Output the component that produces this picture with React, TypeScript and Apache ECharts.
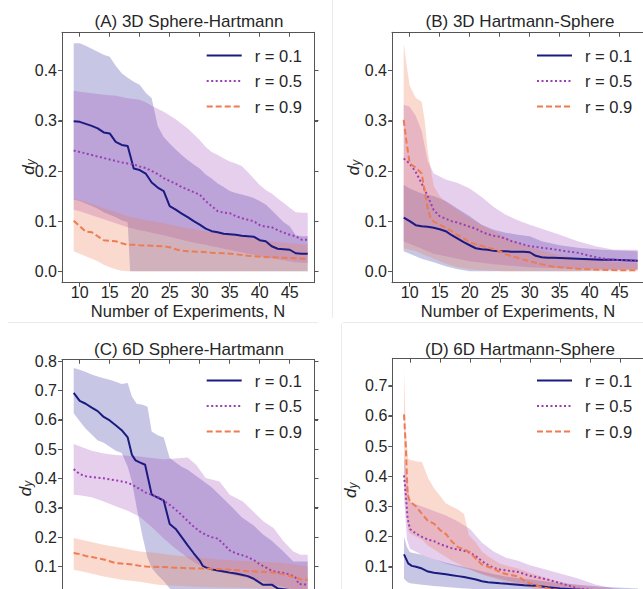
import React, { useEffect, useRef } from 'react';
import * as echarts from 'echarts';

// ---------- labels ----------
const X_TICKS = [10, 15, 20, 25, 30, 35, 40, 45];
const Y_TICKS_AB = [0, 0.1, 0.2, 0.3, 0.4];
const Y_TICKS_C = [0, 0.1, 0.2, 0.3, 0.4, 0.5, 0.6, 0.7, 0.8];
const Y_TICKS_D = [0, 0.1, 0.2, 0.3, 0.4, 0.5, 0.6, 0.7];
const LEGEND_NAMES = ['r = 0.1', 'r = 0.5', 'r = 0.9'];
const TITLES = ['(A) 3D Sphere-Hartmann', '(B) 3D Hartmann-Sphere', '(C) 6D Sphere-Hartmann', '(D) 6D Hartmann-Sphere'];
const X_NAME = 'Number of Experiments, N';
const Y_NAME = '{d|d}{s|y}';

// ---------- Panel A: means [N, d_y] ----------
const A_MEAN_01 = [[9,0.299],[10,0.298],[11,0.294],[12,0.29],[13,0.285],[14,0.277],[15,0.275],[16,0.258],[17,0.252],[18,0.25],[19,0.205],[20,0.202],[21,0.195],[22,0.177],[23,0.167],[24,0.16],[25,0.13],[26,0.123],[27,0.115],[28,0.108],[29,0.1],[30,0.093],[31,0.085],[32,0.08],[33,0.078],[34,0.075],[35,0.074],[36,0.073],[37,0.071],[38,0.07],[39,0.069],[40,0.062],[41,0.06],[42,0.05],[43,0.045],[44,0.044],[45,0.043],[46,0.036],[47,0.035],[48,0.035]];
const A_MEAN_05 = [[9,0.241],[10,0.238],[12,0.232],[14,0.226],[16,0.22],[17,0.217],[18,0.215],[19,0.213],[20,0.209],[21,0.206],[22,0.2],[23,0.194],[24,0.186],[25,0.18],[26,0.175],[27,0.168],[28,0.163],[29,0.158],[30,0.153],[31,0.14],[32,0.13],[33,0.12],[34,0.117],[35,0.116],[36,0.11],[37,0.106],[38,0.103],[39,0.1],[40,0.092],[41,0.089],[42,0.088],[43,0.082],[44,0.077],[45,0.073],[46,0.07],[47,0.063],[48,0.063]];
const A_MEAN_09 = [[9,0.101],[10,0.09],[11,0.079],[12,0.078],[13,0.07],[14,0.062],[15,0.061],[16,0.06],[17,0.056],[18,0.053],[19,0.053],[20,0.052],[22,0.051],[24,0.05],[25,0.048],[26,0.044],[27,0.041],[28,0.04],[30,0.039],[32,0.037],[34,0.036],[36,0.034],[38,0.031],[40,0.029],[42,0.028],[44,0.027],[46,0.026],[48,0.025]];
// bands [N, lower, upper]
const A_BAND_01 = [[9,0.143,0.455],[10,0.14,0.455],[11,0.135,0.45],[12,0.13,0.444],[13,0.125,0.438],[14,0.118,0.432],[15,0.113,0.428],[16,0.108,0.41],[17,0.102,0.395],[18,0.098,0.386],[18.4,0,0.383],[19,0,0.378],[20,0,0.372],[21,0,0.356],[22,0,0.345],[23,0,0.29],[24,0,0.268],[25,0,0.255],[26,0,0.243],[27,0,0.232],[28,0,0.222],[29,0,0.213],[30,0,0.205],[31,0,0.193],[32,0,0.185],[33,0,0.175],[34,0,0.168],[35,0,0.16],[36,0,0.156],[37,0,0.153],[38,0,0.15],[39,0,0.146],[40,0,0.14],[41,0,0.133],[42,0,0.122],[43,0,0.11],[44,0,0.098],[45,0,0.09],[46,0,0.072],[47,0,0.07],[48,0,0.07]];
const A_BAND_05 = [[9,0.123,0.36],[10,0.12,0.358],[12,0.112,0.355],[14,0.104,0.352],[16,0.096,0.35],[18,0.088,0.345],[20,0.082,0.342],[21,0.08,0.337],[22,0.077,0.33],[24,0.072,0.318],[26,0.066,0.303],[28,0.06,0.285],[30,0.055,0.262],[31,0.053,0.248],[32,0.05,0.238],[33,0.048,0.232],[34,0.045,0.225],[35,0.043,0.219],[36,0.04,0.215],[37,0.038,0.21],[38,0.035,0.198],[39,0.033,0.185],[40,0.03,0.172],[41,0.028,0.162],[42,0.026,0.155],[43,0.024,0.145],[44,0.022,0.136],[45,0.02,0.127],[46,0.018,0.118],[47,0.017,0.117],[48,0.017,0.117]];
const A_BAND_09 = [[9,0.04,0.145],[10,0.035,0.142],[11,0.03,0.138],[12,0.025,0.134],[13,0.02,0.13],[14,0.013,0.126],[15,0.008,0.122],[16,0.004,0.118],[17,0.001,0.114],[18,0,0.11],[20,0,0.105],[22,0,0.1],[24,0,0.096],[26,0,0.091],[28,0,0.086],[30,0,0.082],[32,0,0.078],[34,0,0.075],[36,0,0.071],[38,0,0.067],[40,0,0.063],[42,0,0.06],[44,0,0.057],[46,0,0.055],[48,0,0.053]];

// ---------- Panel B ----------
const B_MEAN_01 = [[9,0.107],[10,0.1],[11,0.092],[12,0.09],[13,0.089],[14,0.087],[15,0.084],[16,0.08],[17,0.072],[18,0.065],[19,0.058],[20,0.052],[21,0.046],[22,0.044],[23,0.043],[24,0.041],[25,0.04],[26,0.04],[27,0.039],[28,0.039],[29,0.039],[30,0.038],[31,0.031],[32,0.028],[33,0.027],[34,0.027],[36,0.026],[38,0.025],[40,0.024],[42,0.023],[44,0.023],[46,0.022],[48,0.021]];
const B_MEAN_05 = [[9,0.225],[10,0.215],[11,0.198],[12,0.175],[13,0.15],[14,0.122],[15,0.11],[16,0.105],[17,0.1],[18,0.097],[19,0.093],[20,0.089],[21,0.085],[22,0.079],[23,0.074],[24,0.071],[25,0.069],[26,0.065],[27,0.06],[28,0.057],[30,0.05],[32,0.047],[34,0.044],[36,0.04],[38,0.037],[40,0.031],[42,0.026],[44,0.023],[46,0.022],[48,0.021]];
const B_MEAN_09 = [[9,0.302],[9.5,0.255],[10,0.215],[11,0.207],[12,0.195],[12.5,0.16],[13,0.126],[13.5,0.105],[14,0.099],[15,0.093],[16,0.087],[17,0.08],[18,0.072],[19,0.066],[20,0.058],[21,0.054],[22,0.051],[23,0.047],[24,0.044],[25,0.04],[26,0.034],[27,0.03],[28,0.027],[30,0.02],[32,0.014],[34,0.009],[36,0.007],[38,0.005],[40,0.004],[42,0.003],[45,0.002],[48,0.002]];
const B_BAND_01 = [[9,0.04,0.172],[10,0.035,0.165],[12,0.025,0.155],[14,0.018,0.15],[16,0.01,0.14],[18,0.004,0.125],[20,0,0.11],[22,0,0.093],[24,0,0.083],[26,0,0.077],[28,0,0.073],[30,0,0.07],[32,0,0.06],[35,0,0.052],[38,0,0.047],[42,0.002,0.043],[48,0.003,0.04]];
const B_BAND_05 = [[9,0.06,0.332],[10,0.055,0.328],[11,0.05,0.31],[12,0.045,0.28],[13,0.04,0.22],[14,0.035,0.195],[16,0.03,0.183],[18,0.025,0.176],[20,0.02,0.165],[22,0.017,0.148],[24,0.014,0.128],[26,0.012,0.113],[28,0.01,0.102],[30,0.008,0.093],[32,0.007,0.085],[35,0.006,0.073],[38,0.005,0.06],[41,0.005,0.05],[44,0.004,0.043],[48,0.004,0.043]];
const B_BAND_09 = [[9,0.045,0.455],[9.5,0.045,0.41],[10,0.043,0.37],[11,0.04,0.346],[12,0.035,0.338],[12.5,0.032,0.3],[13,0.03,0.24],[14,0.025,0.17],[15,0.02,0.15],[16,0.015,0.138],[18,0.008,0.122],[20,0.004,0.106],[22,0.002,0.092],[24,0.001,0.08],[26,0,0.068],[28,0,0.057],[30,0,0.048],[34,0,0.035],[38,0,0.026],[42,0,0.02],[48,0,0.016]];

// ---------- Panel C ----------
const C_MEAN_01 = [[9,0.692],[10,0.665],[11,0.655],[12,0.642],[13,0.63],[14,0.61],[15,0.598],[16,0.582],[17,0.565],[18,0.54],[18.7,0.481],[19.3,0.462],[20,0.455],[20.9,0.447],[22,0.345],[23,0.335],[24,0.325],[25,0.245],[26,0.228],[27,0.2],[28,0.172],[29,0.145],[30,0.12],[30.5,0.102],[31,0.097],[32,0.09],[33,0.086],[34,0.083],[35,0.079],[36,0.076],[37,0.072],[38,0.067],[39,0.058],[40,0.045],[40.5,0.038],[42,0.038],[43,0.025],[45,0.02],[48,0.015]];
const C_MEAN_05 = [[9,0.432],[10,0.415],[11,0.408],[12,0.405],[14,0.401],[15,0.397],[16,0.394],[17,0.39],[18,0.386],[19,0.376],[20,0.364],[21,0.352],[22,0.345],[23,0.337],[24,0.325],[25,0.31],[26,0.294],[27,0.275],[28,0.255],[29,0.236],[30,0.22],[31,0.208],[32,0.2],[33,0.195],[34,0.176],[35,0.155],[36,0.145],[37,0.139],[38,0.132],[39,0.122],[40,0.108],[41,0.097],[42,0.085],[43,0.08],[44,0.078],[45,0.073],[46,0.062],[46.5,0.04],[48,0.038]];
const C_MEAN_09 = [[9,0.146],[10,0.142],[11,0.136],[12,0.132],[13,0.128],[14,0.124],[15,0.118],[16,0.111],[17,0.11],[18,0.108],[19,0.106],[20,0.102],[21,0.1],[22,0.099],[24,0.098],[26,0.096],[28,0.094],[30,0.093],[32,0.092],[34,0.09],[36,0.088],[38,0.084],[40,0.082],[42,0.08],[44,0.073],[46,0.062],[47,0.055],[48,0.055]];
const C_BAND_01 = [[9,0.623,0.777],[10,0.595,0.771],[11,0.57,0.763],[12,0.55,0.755],[13,0.53,0.748],[14,0.522,0.742],[15,0.508,0.737],[16,0.495,0.73],[17,0.487,0.722],[18,0.44,0.726],[18.7,0.39,0.68],[19.5,0.3,0.655],[20.5,0.2,0.652],[21.3,0.13,0.645],[22,0.095,0.56],[23,0.07,0.548],[24,0.05,0.54],[25,0.025,0.47],[26,0.01,0.455],[27,0,0.44],[28,0,0.43],[30,0,0.4],[32,0,0.37],[34,0,0.33],[35.5,0,0.3],[37,0,0.268],[39,0,0.24],[40.5,0,0.21],[42,0,0.188],[44,0,0.15],[45.6,0,0.117],[48,0,0.117]];
const C_BAND_05 = [[9,0.345,0.518],[10,0.343,0.51],[12,0.336,0.495],[14,0.322,0.485],[16,0.305,0.48],[18,0.29,0.478],[20,0.27,0.475],[22,0.235,0.47],[24,0.195,0.466],[26,0.16,0.468],[28,0.13,0.472],[29.4,0.11,0.447],[31,0.096,0.402],[33.3,0.082,0.39],[35,0.073,0.345],[37.2,0.064,0.322],[38.9,0.057,0.288],[40.6,0.048,0.254],[42.3,0.038,0.231],[44,0.03,0.185],[45.6,0.022,0.151],[46.8,0.016,0.14],[48,0.01,0.14]];
const C_BAND_09 = [[9,0.089,0.197],[11,0.08,0.188],[14,0.066,0.174],[17,0.055,0.163],[20,0.048,0.151],[23,0.038,0.146],[25,0.035,0.14],[28,0.032,0.134],[30,0.03,0.13],[33,0.028,0.125],[36,0.027,0.12],[40,0.025,0.117],[44,0.02,0.112],[48,0.015,0.1]];

// ---------- Panel D ----------
const D_MEAN_01 = [[9,0.141],[9.7,0.111],[10.3,0.103],[11,0.1],[12,0.094],[13,0.084],[14,0.08],[15,0.078],[16,0.075],[17,0.072],[18,0.069],[19,0.066],[20,0.062],[21,0.058],[22,0.052],[23,0.049],[24,0.047],[25,0.045],[27,0.042],[29,0.039],[31,0.037],[33,0.032],[35,0.028],[40,0.022],[48,0.015]];
const D_MEAN_05 = [[9,0.403],[9.3,0.34],[9.6,0.26],[10,0.225],[11,0.21],[12,0.199],[13,0.19],[14,0.185],[15,0.175],[16,0.168],[17,0.161],[18,0.157],[19,0.153],[20,0.146],[21,0.135],[22,0.118],[23,0.106],[24,0.096],[25,0.091],[26,0.088],[28,0.083],[30,0.07],[32,0.062],[34,0.052],[36,0.04],[38,0.028],[42,0.02],[48,0.012]];
const D_MEAN_09 = [[9,0.605],[9.3,0.5],[9.6,0.34],[10,0.316],[11,0.3],[12,0.275],[13,0.252],[14,0.243],[15,0.222],[16,0.208],[17,0.183],[18,0.165],[19,0.158],[20,0.148],[21,0.126],[22,0.107],[23,0.1],[24,0.093],[25,0.082],[26,0.076],[27,0.072],[28,0.068],[29,0.055],[30,0.045],[31,0.038],[33,0.028],[36,0.02],[40,0.012],[44,0.009],[48,0.008]];
const D_BAND_01 = [[9,0.06,0.2],[9.5,0.05,0.165],[10,0.045,0.148],[12,0.04,0.14],[14,0.036,0.125],[16,0.033,0.113],[18,0.03,0.104],[20,0.027,0.095],[22,0.024,0.085],[24,0.021,0.075],[26,0.019,0.068],[28,0.017,0.062],[30,0.015,0.058],[34,0.012,0.048],[38,0.009,0.04],[42,0.006,0.034],[48,0.004,0.028]];
const D_BAND_05 = [[9,0.33,0.47],[9.5,0.19,0.4],[10,0.16,0.315],[12,0.14,0.3],[14,0.125,0.285],[16,0.11,0.27],[18,0.1,0.25],[20,0.09,0.225],[22,0.075,0.18],[24,0.065,0.15],[26,0.055,0.13],[28,0.047,0.12],[30,0.04,0.105],[32,0.033,0.094],[35,0.025,0.078],[38,0.018,0.061],[41,0.012,0.04],[44,0.008,0.028],[48,0.005,0.022]];
const D_BAND_09 = [[9,0.45,0.75],[9.3,0.3,0.55],[9.7,0.22,0.459],[10,0.21,0.455],[11,0.2,0.45],[12,0.19,0.447],[13,0.17,0.395],[14,0.158,0.36],[15,0.145,0.335],[16,0.132,0.31],[17,0.12,0.3],[18,0.11,0.29],[19,0.1,0.275],[19.8,0.095,0.205],[21,0.083,0.18],[22,0.075,0.15],[23,0.068,0.135],[25,0.055,0.11],[28,0.042,0.094],[30,0.03,0.08],[33,0.018,0.06],[36,0.01,0.045],[40,0.005,0.032],[44,0.003,0.025],[48,0.002,0.02]];

// ---------- styles ----------
const FONT = '"Liberation Sans", Arial, Helvetica, sans-serif';
const TEXT = '#262626';
const FRAME = '#555555';
const FAINT = '#ebebeb';
const LINE_COLORS = ['#1a1a80', '#9b3cb6', '#ee7b52'];
const BAND_COLORS = ['rgba(30,30,150,0.25)', 'rgba(155,60,182,0.25)', 'rgba(238,123,82,0.28)'];
const LINE_TYPES: any[] = ['solid', [2, 2.5], [6, 3]];
const X_MIN = 7.05;
const X_MAX = 49.05;
const GRID_W = 252;
const TICK = 4;

// lower panels are cropped by the picture's bottom edge: their x labels and 0.0 label fall outside it
const PANELS = [
  { left: 62, top: 32.3, height: 250.4, ymin: -0.0227, ymax: 0.4766, yTicks: Y_TICKS_AB, yLabels: Y_TICKS_AB,
    means: [A_MEAN_01, A_MEAN_05, A_MEAN_09], bands: [A_BAND_01, A_BAND_05, A_BAND_09],
    titleX: 189, titleY: 21.7, legendLeft: 205.7, legendTop: 47, nameGap: 25, namePad: 19, xLabels: true },
  { left: 392, top: 32.3, height: 250.4, ymin: -0.0227, ymax: 0.4766, yTicks: Y_TICKS_AB, yLabels: Y_TICKS_AB,
    means: [B_MEAN_01, B_MEAN_05, B_MEAN_09], bands: [B_BAND_01, B_BAND_05, B_BAND_09],
    titleX: 520, titleY: 21.7, legendLeft: 536, legendTop: 47, nameGap: 30, namePad: 20, xLabels: true },
  { left: 62, top: 359.5, height: 248, ymin: -0.04, ymax: 0.806, yTicks: Y_TICKS_C, yLabels: Y_TICKS_C.slice(1),
    means: [C_MEAN_01, C_MEAN_05, C_MEAN_09], bands: [C_BAND_01, C_BAND_05, C_BAND_09],
    titleX: 189, titleY: 349, legendLeft: 205.7, legendTop: 372, nameGap: 28, namePad: 10, xLabels: false },
  { left: 392.3, top: 358.3, height: 250.7, ymin: -0.04, ymax: 0.791, yTicks: Y_TICKS_D, yLabels: Y_TICKS_D.slice(1),
    means: [D_MEAN_01, D_MEAN_05, D_MEAN_09], bands: [D_BAND_01, D_BAND_05, D_BAND_09],
    titleX: 520, titleY: 349, legendLeft: 536, legendTop: 372, nameGap: 33, namePad: 13, xLabels: false },
];

function bandSeries(band: number[][], color: string, xi: number, yi: number) {
  return {
    type: 'custom', xAxisIndex: xi, yAxisIndex: yi, data: band, silent: true, z: 1, clip: true,
    encode: { x: 0, y: [1, 2] },
    renderItem: (params: any, api: any) => {
      if (params.dataIndex !== 0) return { type: 'group', children: [] };
      const upper = band.map((b) => api.coord([b[0], b[2]]));
      const lower = band.map((b) => api.coord([b[0], b[1]])).reverse();
      return {
        type: 'polygon', silent: true,
        shape: { points: upper.concat(lower) },
        style: { fill: color, stroke: 'none' },
      };
    },
  };
}

function buildOption() {
  const grid: any[] = [];
  const xAxis: any[] = [];
  const yAxis: any[] = [];
  const series: any[] = [];
  const legend: any[] = [];

  PANELS.forEach((p, i) => {
    grid.push({ left: p.left, top: p.top, width: GRID_W, height: p.height,
      containLabel: false, outerBoundsMode: 'none' });
    const ls = () => ({ color: FRAME, width: 1 });
    xAxis.push({
      type: 'value', gridIndex: i, min: X_MIN, max: X_MAX, position: 'bottom',
      axisLine: { show: true, onZero: false, lineStyle: ls() },
      axisTick: { show: true, inside: false, length: TICK, customValues: X_TICKS, lineStyle: ls() },
      axisLabel: { show: p.xLabels, customValues: X_TICKS, fontSize: 16, color: TEXT, fontFamily: FONT, margin: 2 },
      splitLine: { show: false },
      name: p.xLabels ? X_NAME : '', nameLocation: 'middle', nameGap: 20, nameMoveOverlap: false,
      nameTextStyle: { fontSize: 16.5, color: TEXT, fontFamily: FONT },
    });
    xAxis.push({
      type: 'value', gridIndex: i, min: X_MIN, max: X_MAX, position: 'top',
      axisLine: { show: true, onZero: false, lineStyle: ls() },
      axisTick: { show: true, inside: true, length: TICK, customValues: X_TICKS, lineStyle: ls() },
      axisLabel: { show: false }, splitLine: { show: false },
    });
    yAxis.push({
      type: 'value', gridIndex: i, min: p.ymin, max: p.ymax, position: 'left',
      axisLine: { show: true, onZero: false, lineStyle: ls() },
      axisTick: { show: true, inside: false, length: TICK, customValues: p.yTicks, lineStyle: ls() },
      axisLabel: { show: true, customValues: p.yLabels, fontSize: 16, color: TEXT, fontFamily: FONT, margin: 5,
        formatter: (v: number) => v.toFixed(1) },
      splitLine: { show: false },
      name: Y_NAME, nameLocation: 'middle', nameGap: p.nameGap, nameMoveOverlap: false,
      nameTextStyle: {
        padding: [0, p.namePad, 0, 0],
        rich: {
          d: { fontSize: 17, fontStyle: 'italic', color: TEXT, fontFamily: FONT, lineHeight: 18 },
          s: { fontSize: 12, fontStyle: 'italic', color: TEXT, fontFamily: FONT, lineHeight: 12,
               padding: [6, 0, 0, 0], verticalAlign: 'bottom' },
        },
      },
    });
    yAxis.push({
      type: 'value', gridIndex: i, min: p.ymin, max: p.ymax, position: 'right',
      axisLine: { show: true, onZero: false, lineStyle: ls() },
      axisTick: { show: true, inside: false, length: TICK, customValues: p.yTicks, lineStyle: ls() },
      axisLabel: { show: false }, splitLine: { show: false },
    });

    p.bands.forEach((band, k) => {
      series.push(bandSeries(band, BAND_COLORS[k], 2 * i, 2 * i));
    });
    p.means.forEach((m, k) => {
      series.push({
        type: 'line', name: LEGEND_NAMES[k], xAxisIndex: 2 * i, yAxisIndex: 2 * i,
        data: m, symbol: 'none', z: 3,
        lineStyle: { color: LINE_COLORS[k], width: 2, type: LINE_TYPES[k] },
        itemStyle: { color: LINE_COLORS[k] },
      });
    });

    legend.push({
      data: LEGEND_NAMES, orient: 'vertical', left: p.legendLeft, top: p.legendTop,
      itemWidth: 35, itemHeight: 12, itemGap: 8.5, selectedMode: false, padding: 0,
      itemStyle: { opacity: 0 },
      textStyle: { fontSize: 16.5, color: TEXT, fontFamily: FONT, lineHeight: 16, padding: [0, 0, 0, 8] },
    });
  });

  return {
    animation: false,
    backgroundColor: '#ffffff',
    textStyle: { fontFamily: FONT },
    grid, xAxis, yAxis, series, legend,
  };
}

// frame, tick marks (positions from the axes' own scales), titles and faint panel separators
function buildGraphic(chart: any) {
  const g: any[] = [];
  const stroke = { stroke: FRAME, lineWidth: 1, fill: 'none' };
  const crisp = (v: number) => Math.round(v - 0.5) + 0.5;
  g.push({ type: 'line', silent: true, z: 0, shape: { x1: 8, y1: 322.5, x2: 318, y2: 322.5 }, style: { stroke: FAINT, lineWidth: 1 } });
  g.push({ type: 'line', silent: true, z: 0, shape: { x1: 343, y1: 322.5, x2: 643, y2: 322.5 }, style: { stroke: FAINT, lineWidth: 1 } });
  g.push({ type: 'line', silent: true, z: 0, shape: { x1: 332.5, y1: 0, x2: 332.5, y2: 318 }, style: { stroke: FAINT, lineWidth: 1 } });
  g.push({ type: 'line', silent: true, z: 0, shape: { x1: 341.5, y1: 323, x2: 341.5, y2: 589 }, style: { stroke: FAINT, lineWidth: 1 } });

  PANELS.forEach((p, i) => {
    const x0 = crisp(chart.convertToPixel({ xAxisIndex: 2 * i }, X_MIN));
    const x1 = crisp(chart.convertToPixel({ xAxisIndex: 2 * i }, X_MAX));
    const yTop = crisp(chart.convertToPixel({ yAxisIndex: 2 * i }, p.ymax));
    const yBot = crisp(chart.convertToPixel({ yAxisIndex: 2 * i }, p.ymin));
    g.push({ type: 'rect', silent: true, z: 10, shape: { x: x0, y: yTop, width: x1 - x0, height: yBot - yTop }, style: stroke });
    X_TICKS.forEach((v) => {
      const x = crisp(chart.convertToPixel({ xAxisIndex: 2 * i }, v));
      g.push({ type: 'line', silent: true, z: 10, shape: { x1: x, y1: yBot, x2: x, y2: yBot + TICK }, style: stroke });
      g.push({ type: 'line', silent: true, z: 10, shape: { x1: x, y1: yTop, x2: x, y2: yTop + TICK }, style: stroke });
    });
    p.yTicks.forEach((v) => {
      const y = crisp(chart.convertToPixel({ yAxisIndex: 2 * i }, v));
      g.push({ type: 'line', silent: true, z: 10, shape: { x1: x0 - TICK, y1: y, x2: x0, y2: y }, style: stroke });
      g.push({ type: 'line', silent: true, z: 10, shape: { x1: x1, y1: y, x2: x1 + TICK, y2: y }, style: stroke });
    });
    g.push({
      type: 'text', x: p.titleX, y: p.titleY, silent: true, z: 10,
      style: { text: TITLES[i], fontSize: 17, fill: TEXT, fontFamily: FONT,
        align: 'center', verticalAlign: 'middle', textAlign: 'center', textVerticalAlign: 'middle' },
    });
  });
  return g;
}

export default function App() {
  const ref = useRef<HTMLDivElement>(null);
  useEffect(() => {
    if (!ref.current) return;
    const chart = echarts.init(ref.current, undefined, { renderer: 'svg' });
    chart.setOption(buildOption() as any);
    chart.setOption({ graphic: { elements: buildGraphic(chart) } } as any);
    return () => chart.dispose();
  }, []);
  return (
    <div
      ref={ref}
      style={{ position: 'absolute', left: 0, top: 0, width: 643, height: 589, background: '#fff' }}
    />
  );
}
